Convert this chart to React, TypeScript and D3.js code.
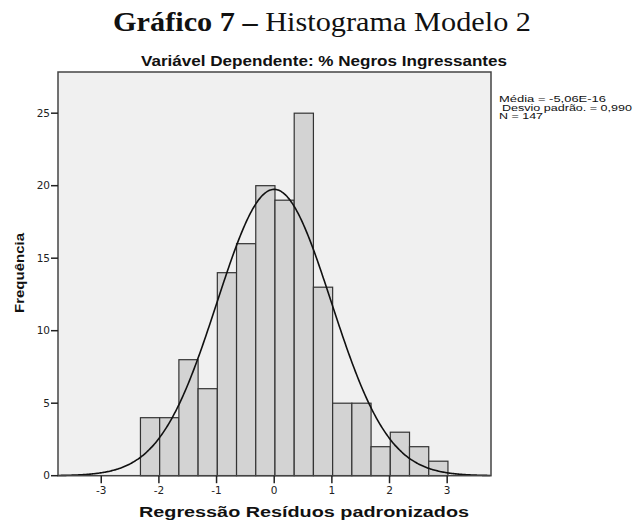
import React from "react";
import * as d3 from "d3";

// Data
const binStart = -2.32;
const binWidth = 1 / 3;
const counts = [4, 4, 8, 6, 14, 16, 20, 19, 25, 13, 5, 5, 2, 3, 2, 1];
const xTicks = [-3, -2, -1, 0, 1, 2, 3];
const yTicks = [0, 5, 10, 15, 20, 25];
const statMean = -5.06e-16;
const statSd = 0.99;
const statN = 147;
const legendLines = ["Média = -5,06E-16", "Desvio padrão. = 0,990", "N = 147"];

const W = 635;
const H = 521;
const plot = { left: 58, right: 491, top: 72, bottom: 475.7 };

export default function App() {
  const x = d3.scaleLinear().domain([-3.75, 3.76]).range([plot.left, plot.right]);
  const y = d3.scaleLinear().domain([0, 27.84]).range([plot.bottom, plot.top]);

  const bins = counts.map((c, i) => ({
    x0: binStart + i * binWidth,
    x1: binStart + (i + 1) * binWidth,
    c,
  }));

  const scale = statN * binWidth;
  const curvePts = d3.range(-3.75, 3.7601, 0.02).map((v) => {
    const z = (v - statMean) / statSd;
    return [v, (scale / (statSd * Math.sqrt(2 * Math.PI))) * Math.exp(-0.5 * z * z)] as [number, number];
  });
  const line = d3
    .line<[number, number]>()
    .x((d) => x(d[0]))
    .y((d) => y(d[1]))
    .curve(d3.curveBasis);

  const sans = "'Liberation Sans', Arial, sans-serif";
  const tickFont = "'DejaVu Sans', sans-serif";
  const legendX = [499, 502, 499];
  const legendLen = [107, 130, 44];

  return (
    <svg width={W} height={H} style={{ position: "absolute", left: 0, top: 0, background: "#fff" }}>
      <rect x={0} y={0} width={W} height={H} fill="#fff" />
      <text
        x={322}
        y={31}
        textAnchor="middle"
        fontFamily="'Liberation Serif', 'Times New Roman', serif"
        fontSize={27.5}
        fill="#111"
        textLength={418}
        lengthAdjust="spacingAndGlyphs"
      >
        <tspan fontWeight="bold">Gráfico 7 –</tspan>
        <tspan> Histograma Modelo 2</tspan>
      </text>
      <text
        x={324}
        y={66}
        textAnchor="middle"
        fontFamily={sans}
        fontWeight="bold"
        fontSize={15}
        fill="#111"
        textLength={366}
        lengthAdjust="spacingAndGlyphs"
      >
        Variável Dependente: % Negros Ingressantes
      </text>

      <rect
        x={plot.left}
        y={plot.top}
        width={plot.right - plot.left}
        height={plot.bottom - plot.top}
        fill="#f0f0f0"
      />
      {bins.map((b, i) => (
        <rect
          key={i}
          x={x(b.x0)}
          y={y(b.c)}
          width={x(b.x1) - x(b.x0)}
          height={y(0) - y(b.c)}
          fill="#d3d3d3"
          stroke="#333"
          strokeWidth={1.2}
        />
      ))}
      <path d={line(curvePts) || ""} fill="none" stroke="#111" strokeWidth={1.6} />
      <rect
        x={plot.left}
        y={plot.top}
        width={plot.right - plot.left}
        height={plot.bottom - plot.top}
        fill="none"
        stroke="#444"
        strokeWidth={1.5}
      />

      {yTicks.map((t) => (
        <g key={t} transform={`translate(0,${y(t)})`}>
          <line x1={plot.left - 7} x2={plot.left} stroke="#222" strokeWidth={1.5} />
          <text x={plot.left - 8} dy="0.35em" textAnchor="end" fontFamily={tickFont} fontSize={10.5} fill="#222">
            {t}
          </text>
        </g>
      ))}
      {xTicks.map((t) => (
        <g key={t} transform={`translate(${x(t)},0)`}>
          <line y1={plot.bottom} y2={plot.bottom + 7.5} stroke="#222" strokeWidth={1.5} />
          <text y={494} textAnchor="middle" fontFamily={tickFont} fontSize={10.5} fill="#222">
            {t < 0 ? `-${Math.abs(t)}` : t}
          </text>
        </g>
      ))}

      <text
        transform={`translate(24,273) rotate(-90)`}
        textAnchor="middle"
        fontFamily={sans}
        fontWeight="bold"
        fontSize={13}
        fill="#111"
        textLength={80}
        lengthAdjust="spacingAndGlyphs"
      >
        Frequência
      </text>
      <text
        x={304}
        y={517}
        textAnchor="middle"
        fontFamily={sans}
        fontWeight="bold"
        fontSize={14}
        fill="#111"
        textLength={330}
        lengthAdjust="spacingAndGlyphs"
      >
        Regressão Resíduos padronizados
      </text>

      {legendLines.map((l, i) => (
        <text
          key={i}
          x={legendX[i]}
          y={102 + i * 8.6}
          fontFamily={sans}
          fontSize={9.6}
          fill="#111"
          textLength={legendLen[i]}
          lengthAdjust="spacingAndGlyphs"
        >
          {l}
        </text>
      ))}
    </svg>
  );
}
